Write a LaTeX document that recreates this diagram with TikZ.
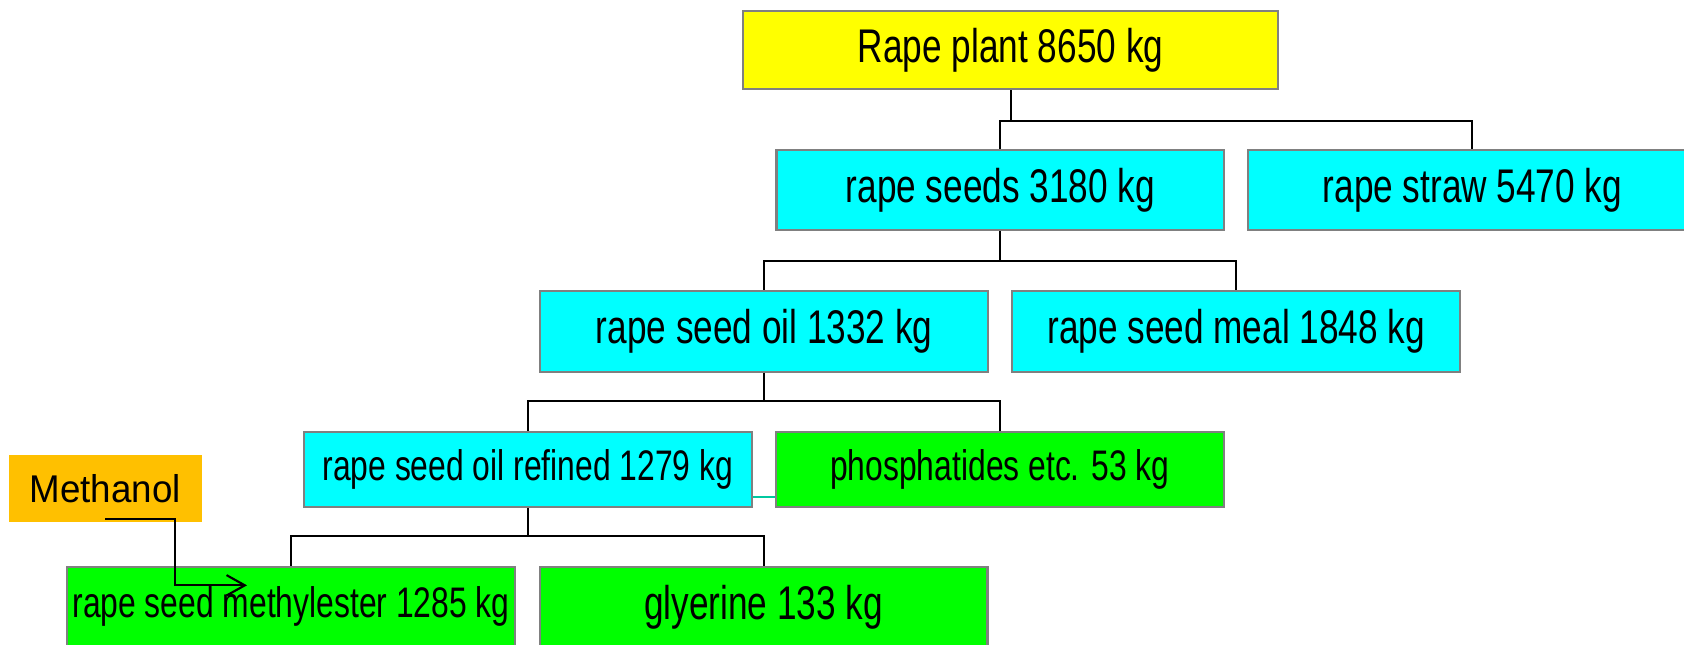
\documentclass[tikz,border=0pt]{standalone}
\usepackage{fontspec}
\setmainfont[FakeStretch=0.745]{Liberation Sans}
\newfontfamily\labelfont[FakeStretch=0.95]{Liberation Sans}
\usetikzlibrary{arrows.meta}
\definecolor{boxgray}{RGB}{128,128,128}
\definecolor{plantyellow}{RGB}{255,255,0}
\definecolor{prodcyan}{RGB}{0,255,255}
\definecolor{prodgreen}{RGB}{0,255,0}
\definecolor{methorange}{RGB}{255,192,0}
\definecolor{linkteal}{RGB}{0,200,160}

\begin{document}
\begin{tikzpicture}[x=0.5pt,y=-0.5pt,
  massbox/.style={draw=boxgray, line width=1pt, minimum width=208.5pt,
    minimum height=37pt, inner sep=0pt, text=black,
    font=\fontsize{22pt}{24pt}\selectfont},
  smalltext/.style={font=\fontsize{19.9pt}{22pt}\selectfont},
  tree/.style={draw=black, line width=0.9pt},
  feed/.style={draw=black, line width=1pt,
    -{Straight Barb[length=8.5pt,width=9.5pt,line width=1pt]}},
  sidelink/.style={draw=linkteal, line width=1pt}
]
\useasboundingbox (0,0) rectangle (1568,600);
\clip (0,0) rectangle (1568,600);

% mass balance boxes
\node[massbox, fill=plantyellow, minimum width=249pt, minimum height=36.5pt]
  (plant) at (941,46.5) {Rape plant 8650 kg};
\node[massbox, fill=prodcyan] (seeds) at (931.5,177) {rape seeds 3180 kg};
\node[massbox, fill=prodcyan, minimum width=209pt] (straw) at (1371,177) {rape straw 5470 kg};
\node[massbox, fill=prodcyan, minimum height=37.5pt] (oil) at (711.5,308.5) {rape seed oil 1332 kg};
\node[massbox, fill=prodcyan, minimum height=37.5pt] (meal) at (1151,308.5) {rape seed meal 1848 kg};
\node[massbox, smalltext, fill=prodcyan, minimum height=35pt] (refined) at (491.5,437) {rape seed oil refined 1279 kg};
\node[massbox, smalltext, fill=prodgreen, minimum height=35pt] (phos) at (931,437) {phosphatides etc. 53 kg};
\node[massbox, smalltext, fill=prodgreen] (rme) at (271,565) {rape seed methylester 1285 kg};
\node[massbox, fill=prodgreen] (glycerine) at (711,565) {glyerine 133 kg};

\node[fill=methorange, minimum width=90pt, minimum height=31pt, inner sep=0pt,
  font=\labelfont\fontsize{18pt}{20pt}\selectfont] (methanol) at (98,455) {Methanol};

% bus levels of the split connectors
\coordinate (busA) at (0,113);
\coordinate (busB) at (0,243);
\coordinate (busC) at (0,373);
\coordinate (busD) at (0,499);
\coordinate (linkY) at (0,463);
\coordinate (feedend) at (230,545);

\draw[tree] (plant.south) -- (plant.south |- busA) -| (seeds.north);
\draw[tree] (plant.south |- busA) -| (straw.north);
\draw[tree] (seeds.south) -- (seeds.south |- busB) -| (oil.north);
\draw[tree] (seeds.south |- busB) -| (meal.north);
\draw[tree] (oil.south) -- (oil.south |- busC) -| (refined.north);
\draw[tree] (oil.south |- busC) -| (phos.north);
\draw[tree] (refined.south) -- (refined.south |- busD) -| (rme.north);
\draw[tree] (refined.south |- busD) -| (glycerine.north);

\draw[sidelink] (refined.east |- linkY) -- (phos.west |- linkY);

% methanol feed into the transesterification
\draw[feed] ([yshift=1.5pt]methanol.south) -- ++(65,0) |- (feedend);
\end{tikzpicture}
\end{document}
